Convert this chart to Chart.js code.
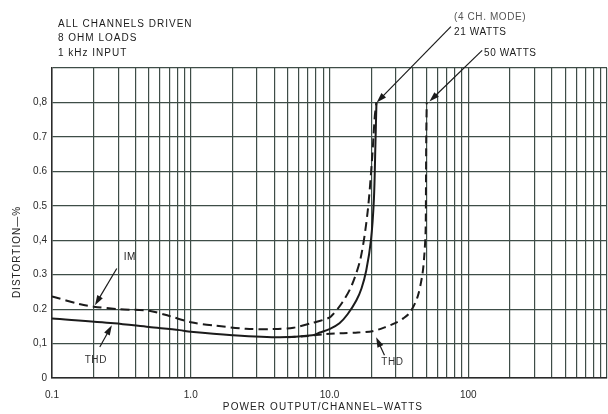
<!DOCTYPE html>
<html>
<head>
<meta charset="utf-8">
<script src="https://cdn.jsdelivr.net/npm/chart.js@4.4.1/dist/chart.umd.min.js"></script>
<style>
  html, body { margin: 0; padding: 0; background: #fff; }
  #wrap { width: 608px; height: 414px; }
</style>
</head>
<body>
<div id="wrap"><canvas id="chart" width="608" height="414"></canvas></div>
<script>
// IM distortion, 4 channel mode (dashed, clips at 21 W)
const imPower = [0.1, 0.16, 0.2, 0.3, 0.5, 0.7, 1.0, 1.5, 2.5, 4, 5.5, 7.5, 8.9, 10.2, 12.4, 14.5, 16.8, 18.8, 20.3, 21.2, 21.8];
const imDist  = [0.237, 0.214, 0.207, 0.2, 0.195, 0.18, 0.162, 0.152, 0.143, 0.142, 0.146, 0.16, 0.168, 0.178, 0.22, 0.27, 0.35, 0.48, 0.64, 0.76, 0.8];

// THD, 4 channel mode (solid)
const thdPower = [0.1, 0.28, 0.5, 0.83, 1.0, 2, 4.4, 7.5, 8.5, 10, 11.8, 13.5, 15.6, 17, 18.4, 19.9, 20.9, 21.4, 21.8];
const thdDist  = [0.173, 0.159, 0.148, 0.139, 0.134, 0.124, 0.118, 0.124, 0.132, 0.142, 0.159, 0.185, 0.225, 0.26, 0.312, 0.4, 0.52, 0.67, 0.8];

// THD up to 50 W (dashed)
const thd50Power = [5, 7, 9, 12, 16, 20.4, 25, 30, 34, 38, 43, 46.7, 48.3, 49.3, 49.6, 49.8, 50.2];
const thd50Dist  = [0.118, 0.122, 0.127, 0.13, 0.132, 0.136, 0.147, 0.16, 0.173, 0.19, 0.234, 0.3, 0.36, 0.43, 0.57, 0.7, 0.8];

// axes
const xDecades = [0.1, 1, 10, 100];
const xMultipliers = [1, 2, 3, 4, 5, 6, 7, 8, 9];
const xTickLabels = ['0.1', '1.0', '10.0', '100'];
const yTickLabels = ['0', '0,1', '0.2', '0.3', '0,4', '0.5', '0.6', '0.7', '0,8'];

const xTickValues = xDecades.flatMap(d => xMultipliers.map(m => d * m)).concat([1000]);

const toPoints = (xs, ys) => xs.map((v, i) => ({ x: v, y: ys[i] }));

const ink = '#1b1b1b';
const gridColor = '#3e4d47';
const fontFamily = '"Liberation Sans", Arial, sans-serif';

// annotation arrows, in data units [power, distortion]
const arrows = [
  { from: [75, 1.02], to: [21.9, 0.8] },
  { from: [126, 0.951], to: [52.5, 0.803] },
  { from: [0.293, 0.318], to: [0.204, 0.211] },
  { from: [0.221, 0.09], to: [0.27, 0.153] },
  { from: [24.9, 0.066], to: [21.7, 0.118] }
];

const notes = [
  { text: '(4 CH. MODE)', at: [79, 1.046], align: 'left', color: '#555' },
  { text: '21 WATTS', at: [79, 1.003], align: 'left', color: ink },
  { text: '50 WATTS', at: [130, 0.942], align: 'left', color: ink },
  { text: 'IM', at: [0.364, 0.35], align: 'center', color: ink },
  { text: 'THD', at: [0.207, 0.052], align: 'center', color: '#333' },
  { text: 'THD', at: [28.4, 0.046], align: 'center', color: '#333' }
];

const headerLines = ['ALL CHANNELS DRIVEN', '8 OHM LOADS', '1 kHz INPUT'];

function drawArrow(ctx, x0, y0, x1, y1) {
  const a = Math.atan2(y1 - y0, x1 - x0);
  const c = Math.cos(a), s = Math.sin(a);
  ctx.beginPath();
  ctx.moveTo(x0, y0);
  ctx.lineTo(x1 - 6 * c, y1 - 6 * s);
  ctx.stroke();
  ctx.beginPath();
  ctx.moveTo(x1, y1);
  ctx.lineTo(x1 - 10 * c + 3.2 * s, y1 - 10 * s - 3.2 * c);
  ctx.lineTo(x1 - 10 * c - 3.2 * s, y1 - 10 * s + 3.2 * c);
  ctx.closePath();
  ctx.fill();
}

const annotationPlugin = {
  id: 'annotations',
  afterDraw(chart) {
    const { ctx, chartArea } = chart;
    const xs = chart.scales.x, ys = chart.scales.y;
    const px = p => [xs.getPixelForValue(p[0]), ys.getPixelForValue(p[1])];
    ctx.save();
    ctx.strokeStyle = ink;
    ctx.fillStyle = ink;
    ctx.lineWidth = 1.2;
    arrows.forEach(a => {
      const [x0, y0] = px(a.from);
      const [x1, y1] = px(a.to);
      drawArrow(ctx, x0, y0, x1, y1);
    });

    ctx.font = '10px ' + fontFamily;
    ctx.letterSpacing = '0.6px';
    ctx.textBaseline = 'middle';
    notes.forEach(n => {
      const [x, y] = px(n.at);
      ctx.fillStyle = n.color;
      ctx.textAlign = n.align;
      ctx.fillText(n.text, x, y);
    });

    // header block
    ctx.fillStyle = ink;
    ctx.textAlign = 'left';
    ctx.letterSpacing = '1px';
    headerLines.forEach((t, i) => {
      ctx.fillText(t, chartArea.left + 6, chartArea.top - 44 + i * 14.5);
    });

    // axis titles
    ctx.fillStyle = '#222';
    ctx.textAlign = 'center';
    ctx.letterSpacing = '1.1px';
    ctx.fillText('POWER OUTPUT/CHANNEL\u2013WATTS', 323, chart.height - 7);

    ctx.translate(17, 252);
    ctx.rotate(-Math.PI / 2);
    ctx.letterSpacing = '1px';
    ctx.fillText('DISTORTION\u2014%', 0, 0);
    ctx.restore();
  }
};

const ctx = document.getElementById('chart').getContext('2d');
new Chart(ctx, {
  type: 'scatter',
  data: {
    datasets: [
      {
        label: 'IM',
        data: toPoints(imPower, imDist),
        showLine: true,
        borderColor: ink,
        borderWidth: 2,
        borderDash: [9, 5],
        pointRadius: 0,
        tension: 0.3
      },
      {
        label: 'THD',
        data: toPoints(thdPower, thdDist),
        showLine: true,
        borderColor: ink,
        borderWidth: 2,
        pointRadius: 0,
        tension: 0.3
      },
      {
        label: 'THD 50 W',
        data: toPoints(thd50Power, thd50Dist),
        showLine: true,
        borderColor: ink,
        borderWidth: 2,
        borderDash: [8, 5],
        pointRadius: 0,
        tension: 0.3
      }
    ]
  },
  options: {
    responsive: false,
    animation: false,
    layout: { padding: { top: 68, right: 1, left: 0, bottom: 0 } },
    plugins: {
      legend: { display: false },
      tooltip: { enabled: false }
    },
    scales: {
      x: {
        type: 'logarithmic',
        min: 0.1,
        max: 1000,
        afterBuildTicks: scale => {
          scale.ticks = xTickValues.map(v => ({ value: v }));
        },
        afterFit: scale => {
          scale.height = 36;
          scale.paddingLeft = 0;
          scale.paddingRight = 0;
        },
        grid: { color: gridColor, lineWidth: 1.2, drawTicks: false },
        border: { display: true, color: '#2a2a2a', width: 1.5 },
        ticks: {
          autoSkip: false,
          maxRotation: 0,
          minRotation: 0,
          padding: 11,
          color: '#2a2a2a',
          font: { family: fontFamily, size: 10 },
          callback: (v, i) => (i % 9 === 0 ? (xTickLabels[i / 9] || '') : '')
        }
      },
      y: {
        min: 0,
        max: 0.9,
        afterFit: scale => {
          scale.width = 52;
          scale.paddingTop = 0;
          scale.paddingBottom = 0;
        },
        grid: { color: gridColor, lineWidth: 1.2, drawTicks: false },
        border: { display: true, color: '#2a2a2a', width: 1.5 },
        ticks: {
          stepSize: 0.1,
          padding: 5,
          color: '#2a2a2a',
          font: { family: fontFamily, size: 10 },
          callback: (v, i) => yTickLabels[i] || ''
        }
      }
    }
  },
  plugins: [annotationPlugin]
});
</script>
</body>
</html>
